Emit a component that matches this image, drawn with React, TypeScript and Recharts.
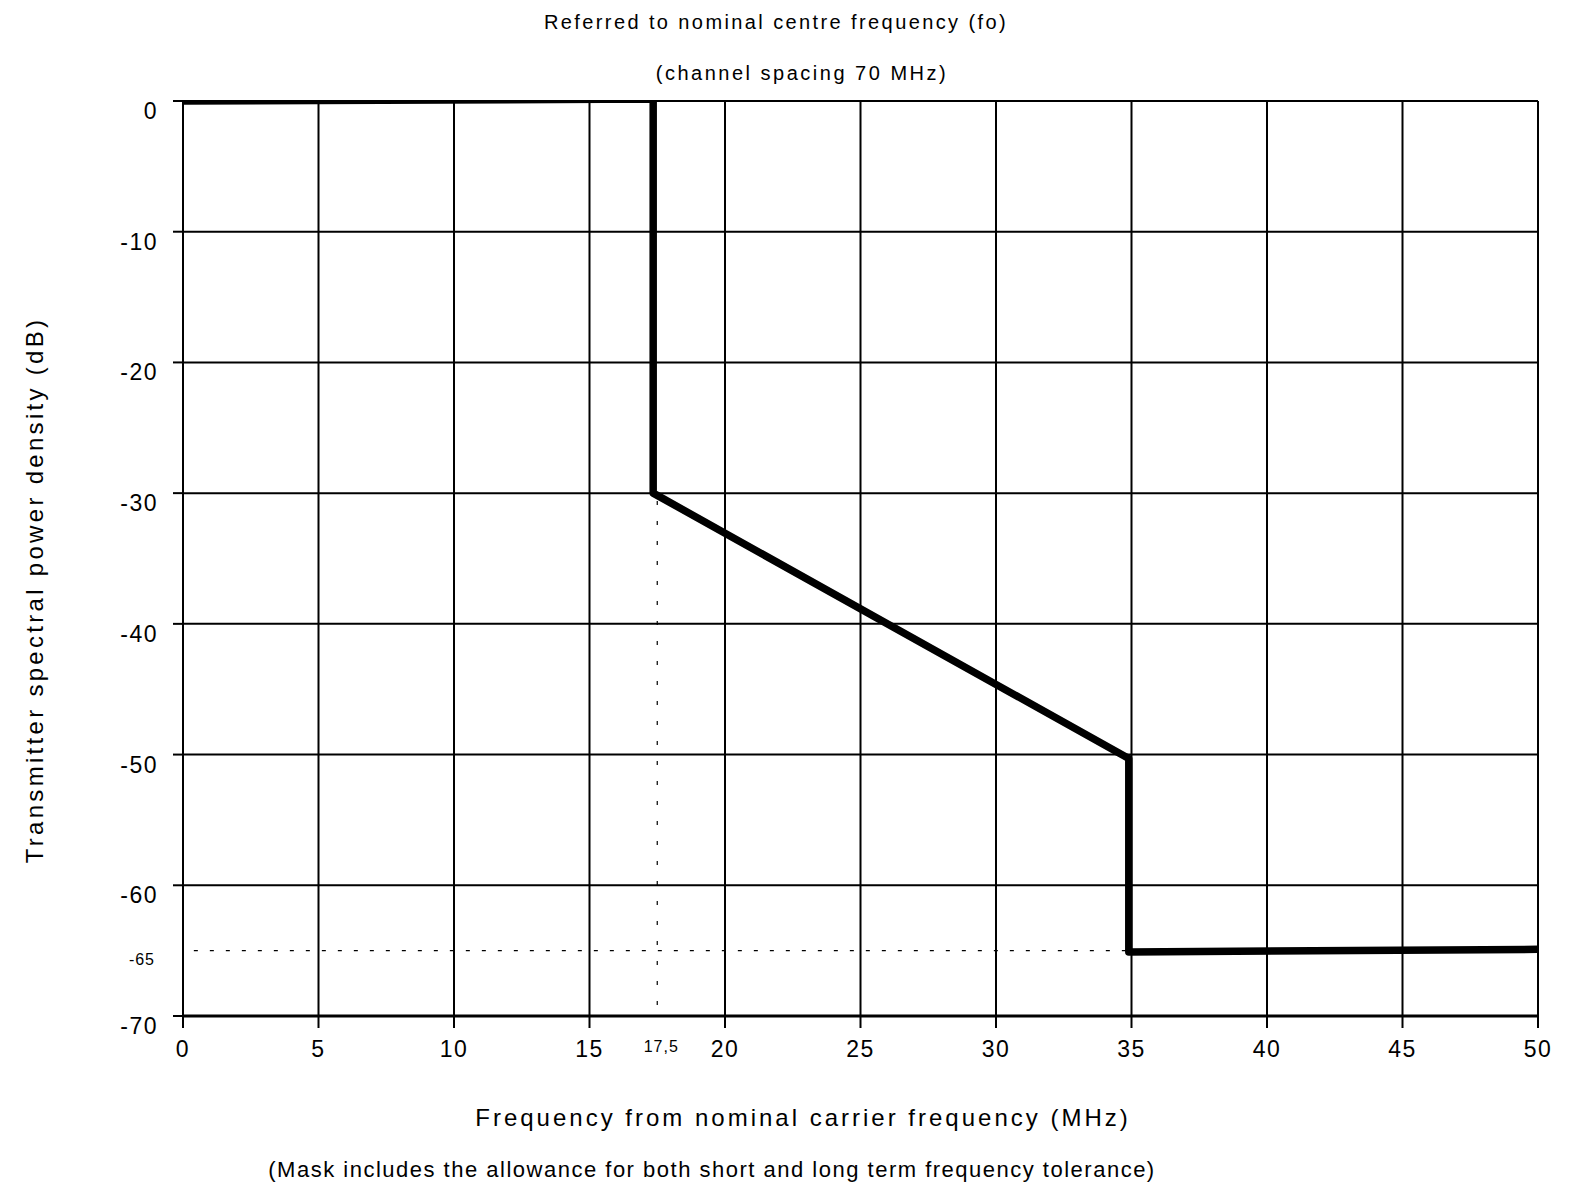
import React from "react";
import {
  LineChart,
  Line,
  XAxis,
  YAxis,
  ReferenceLine,
} from "recharts";

// mask corner points
const MASK_FREQ = [0, 17.35, 17.35, 34.9, 34.9, 50];
const MASK_DB = [0, 0.15, -30, -50.3, -65.1, -64.9];

const X_TICKS = [0, 5, 10, 15, 17.5, 20, 25, 30, 35, 40, 45, 50];
const X_MINOR = [17.5];
const Y_TICKS = [0, -10, -20, -30, -40, -50, -60, -65, -70];
const Y_MINOR = [-65];
const GRID_X = [5, 10, 15, 20, 25, 30, 35, 40, 45, 50];
const GRID_Y = [0, -10, -20, -30, -40, -50, -60];

const FONT = '"Liberation Sans", Arial, sans-serif';

const data = MASK_FREQ.map((f, i) => ({ freq: f, db: MASK_DB[i] }));

const fmt = (v: number) => String(v).replace(".", ",");

function XTick(props: any) {
  const { x, y, payload } = props;
  const minor = X_MINOR.includes(payload.value);
  return (
    <g>
      {!minor && <line x1={x} x2={x} y1={y} y2={y + 12} stroke="#000" strokeWidth={2} />}
      <text
        x={x + (minor ? 4 : 0)}
        y={minor ? y + 30 : y + 33}
        textAnchor="middle"
        dominantBaseline="central"
        fontSize={minor ? 16 : 23}
        letterSpacing={minor ? 1 : 1.5}
        fill="#000"
        fontFamily={FONT}
      >
        {fmt(payload.value)}
      </text>
    </g>
  );
}

function YTick(props: any) {
  const { x, y, payload } = props;
  const minor = Y_MINOR.includes(payload.value);
  return (
    <g>
      {!minor && <line x1={x - 10} x2={x} y1={y} y2={y} stroke="#000" strokeWidth={2} />}
      <text
        x={x - (minor ? 28 : 25)}
        y={y + (minor ? 9 : 10)}
        textAnchor="end"
        dominantBaseline="central"
        fontSize={minor ? 16 : 23}
        letterSpacing={minor ? 1 : 1.5}
        fill="#000"
        fontFamily={FONT}
      >
        {payload.value}
      </text>
    </g>
  );
}

const textStyle: React.CSSProperties = {
  position: "absolute",
  fontFamily: FONT,
  color: "#000",
  whiteSpace: "nowrap",
  transform: "translate(-50%, -50%)",
};

export default function App() {
  return (
    <div style={{ position: "absolute", left: 0, top: 0, width: 1573, height: 1191, background: "#fff" }}>
      <div style={{ ...textStyle, left: 776, top: 22, fontSize: 20, letterSpacing: 2.4 }}>
        Referred to nominal centre frequency (fo)
      </div>
      <div style={{ ...textStyle, left: 802, top: 73, fontSize: 20, letterSpacing: 2.5 }}>
        (channel spacing 70 MHz)
      </div>
      <div
        style={{
          ...textStyle,
          left: 35,
          top: 590,
          fontSize: 24,
          letterSpacing: 3.3,
          transform: "translate(-50%, -50%) rotate(-90deg)",
        }}
      >
        Transmitter spectral power density (dB)
      </div>
      <div style={{ ...textStyle, left: 803, top: 1118, fontSize: 24, letterSpacing: 3 }}>
        Frequency from nominal carrier frequency (MHz)
      </div>
      <div style={{ ...textStyle, left: 712, top: 1170, fontSize: 22, letterSpacing: 1.5 }}>
        (Mask includes the allowance for both short and long term frequency tolerance)
      </div>

      <LineChart
        width={1573}
        height={1191}
        data={data}
        margin={{ top: 101, right: 35, bottom: 115, left: 123 }}
      >
        <XAxis
          dataKey="freq"
          type="number"
          domain={[0, 50]}
          ticks={X_TICKS}
          interval={0}
          height={60}
          tickSize={0}
          tickMargin={0}
          tickLine={false}
          axisLine={{ stroke: "#000", strokeWidth: 3 }}
          tick={(p: any) => <XTick {...p} />}
          allowDataOverflow
        />
        <YAxis
          type="number"
          domain={[-70, 0]}
          ticks={Y_TICKS}
          interval={0}
          width={60}
          tickSize={0}
          tickMargin={0}
          tickLine={false}
          axisLine={{ stroke: "#000", strokeWidth: 2 }}
          tick={(p: any) => <YTick {...p} />}
          allowDataOverflow
        />
        {GRID_X.map((v) => (
          <ReferenceLine key={"gx" + v} x={v} stroke="#000" strokeWidth={2} ifOverflow="visible" />
        ))}
        {GRID_Y.map((v) => (
          <ReferenceLine key={"gy" + v} y={v} stroke="#000" strokeWidth={2} ifOverflow="visible" />
        ))}
        <ReferenceLine
          segment={[
            { x: 17.5, y: -30.6 },
            { x: 17.5, y: -69.2 },
          ]}
          stroke="#000"
          strokeWidth={1.2}
          strokeDasharray="4 16"
          ifOverflow="visible"
        />
        <ReferenceLine
          segment={[
            { x: 0.4, y: -65 },
            { x: 34.8, y: -65 },
          ]}
          stroke="#000"
          strokeWidth={1.2}
          strokeDasharray="4 12"
          ifOverflow="visible"
        />
        <Line
          type="linear"
          dataKey="db"
          stroke="#000"
          strokeWidth={7.5}
          strokeLinejoin="round"
          strokeLinecap="round"
          dot={false}
          activeDot={false}
          isAnimationActive={false}
        />
      </LineChart>
    </div>
  );
}
